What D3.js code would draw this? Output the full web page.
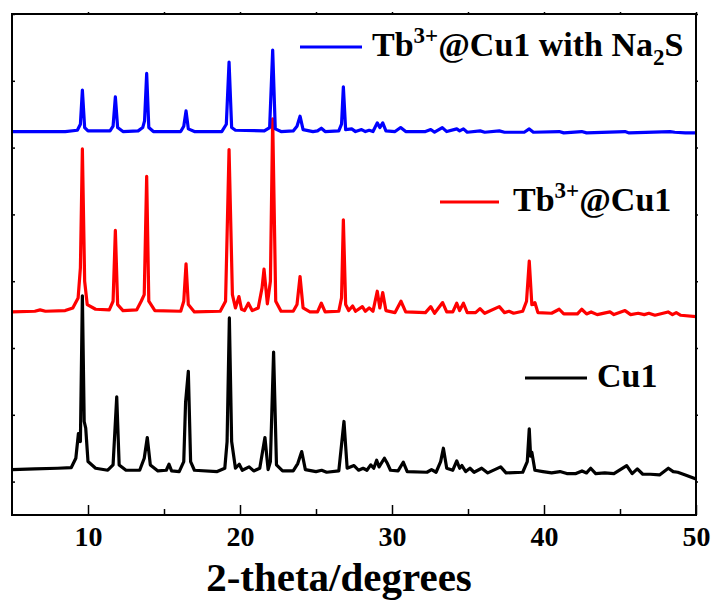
<!DOCTYPE html>
<html>
<head>
<meta charset="utf-8">
<script src="https://cdn.jsdelivr.net/npm/d3@7"></script>
<style>
  body { margin: 0; background: #fff; }
  text { font-family: "Liberation Serif", "Times New Roman", serif; font-weight: bold; }
</style>
</head>
<body>
<svg id="chart" width="713" height="601"></svg>
<script>
// tick labels
var xTicks = [10, 20, 30, 40, 50];
var xMinorTicks = [15, 25, 35, 45];
var yTicks = [0, 1, 2, 3, 4, 5, 6, 7];

// XRD traces: [2-theta, offset intensity]
var cu1 = [[5.0,0.18],[6.5,0.19],[8.0,0.2],[8.9,0.21],[9.2,0.35],[9.37,0.72],[9.5,0.6],[9.63,2.78],[9.75,0.9],[9.85,0.8],[10.0,0.3],[10.5,0.2],[11.3,0.17],[11.65,0.25],[11.89,1.27],[12.05,0.25],[12.5,0.17],[13.4,0.17],[13.7,0.35],[13.9,0.66],[14.1,0.25],[14.6,0.16],[15.15,0.17],[15.33,0.26],[15.5,0.16],[16.0,0.15],[16.3,0.3],[16.42,1.19],[16.6,1.65],[16.75,0.3],[17.0,0.17],[18.5,0.15],[19.0,0.2],[19.15,0.6],[19.3,2.45],[19.45,0.6],[19.7,0.2],[19.95,0.26],[20.15,0.17],[20.6,0.22],[20.9,0.16],[21.3,0.2],[21.64,0.66],[21.85,0.18],[22.0,0.3],[22.21,1.94],[22.4,0.25],[22.8,0.16],[23.5,0.16],[23.8,0.27],[24.06,0.45],[24.3,0.18],[25.0,0.15],[25.37,0.17],[25.7,0.14],[26.5,0.16],[26.84,0.9],[27.05,0.2],[27.5,0.24],[27.8,0.17],[28.1,0.2],[28.35,0.17],[28.6,0.25],[28.8,0.2],[28.99,0.32],[29.15,0.22],[29.5,0.35],[29.7,0.27],[29.9,0.17],[30.4,0.16],[30.74,0.29],[31.0,0.15],[32.3,0.14],[32.6,0.18],[32.9,0.14],[33.2,0.3],[33.38,0.5],[33.6,0.2],[34.0,0.17],[34.26,0.31],[34.45,0.2],[34.6,0.24],[34.85,0.15],[35.13,0.2],[35.4,0.14],[35.9,0.2],[36.3,0.13],[37.15,0.22],[37.5,0.13],[38.6,0.14],[38.9,0.3],[39.03,0.79],[39.12,0.38],[39.2,0.44],[39.4,0.17],[39.93,0.15],[40.5,0.13],[41.05,0.15],[41.5,0.12],[42.1,0.12],[42.5,0.16],[42.8,0.13],[43.07,0.2],[43.4,0.12],[44.0,0.13],[44.6,0.12],[45.44,0.24],[45.8,0.12],[46.14,0.19],[46.5,0.11],[47.0,0.11],[47.6,0.1],[48.18,0.2],[48.5,0.15],[48.8,0.14],[49.3,0.1],[50,0.04]];

var tbCu1 = [[5,2.54],[6.5,2.55],[6.85,2.57],[7.2,2.55],[8.5,2.56],[9.0,2.6],[9.35,2.75],[9.5,3.2],[9.63,4.98],[9.78,3.0],[9.95,2.65],[10.5,2.58],[11.4,2.57],[11.65,2.7],[11.8,3.76],[11.95,2.65],[12.3,2.56],[13.2,2.57],[13.5,2.7],[13.7,2.8],[13.86,4.57],[14.0,2.7],[14.4,2.56],[16.1,2.55],[16.3,2.7],[16.45,3.26],[16.6,2.65],[17.0,2.54],[18.7,2.55],[19.05,2.7],[19.28,4.97],[19.5,2.8],[19.7,2.6],[19.93,2.77],[20.1,2.58],[20.3,2.56],[20.55,2.67],[20.8,2.56],[21.2,2.6],[21.45,2.9],[21.58,3.18],[21.8,2.66],[22.0,3.0],[22.15,5.43],[22.35,2.7],[22.7,2.55],[23.5,2.55],[23.75,2.65],[23.95,3.07],[24.15,2.6],[24.6,2.54],[25.1,2.54],[25.35,2.67],[25.6,2.54],[26.5,2.55],[26.68,2.75],[26.8,3.92],[26.95,2.65],[27.15,2.56],[27.41,2.63],[27.6,2.55],[28.05,2.62],[28.25,2.55],[28.5,2.6],[28.75,2.55],[29.03,2.85],[29.2,2.6],[29.39,2.83],[29.6,2.56],[30.2,2.53],[30.59,2.7],[30.9,2.54],[32.2,2.53],[32.55,2.62],[32.8,2.52],[33.33,2.68],[33.6,2.54],[34.0,2.54],[34.26,2.67],[34.45,2.56],[34.7,2.67],[34.95,2.53],[35.5,2.53],[35.79,2.59],[36.1,2.52],[37.06,2.62],[37.4,2.53],[37.7,2.55],[38.0,2.52],[38.6,2.55],[38.85,2.7],[39.03,3.30],[39.2,2.65],[39.4,2.68],[39.6,2.53],[40.5,2.52],[41.0,2.58],[41.3,2.51],[42.2,2.51],[42.48,2.58],[42.8,2.51],[43.1,2.54],[43.5,2.5],[44.34,2.54],[44.6,2.5],[45.33,2.56],[45.7,2.5],[46.2,2.52],[46.6,2.5],[46.9,2.52],[47.3,2.49],[48.16,2.54],[48.45,2.5],[48.7,2.53],[49.0,2.49],[50,2.47]];

var tbCu1Na2S = [[5,5.24],[8.5,5.24],[9.3,5.26],[9.5,5.35],[9.63,5.86],[9.78,5.3],[10.0,5.25],[11.45,5.25],[11.65,5.32],[11.8,5.76],[11.95,5.3],[12.3,5.24],[13.3,5.25],[13.6,5.3],[13.72,5.4],[13.86,6.11],[14.0,5.3],[14.3,5.24],[16.1,5.24],[16.3,5.32],[16.45,5.55],[16.6,5.28],[17.0,5.24],[18.8,5.24],[19.1,5.35],[19.28,6.28],[19.45,5.3],[19.7,5.26],[21.6,5.25],[21.95,5.3],[22.15,6.46],[22.32,5.28],[22.7,5.24],[23.5,5.25],[23.75,5.32],[23.95,5.47],[24.15,5.27],[24.8,5.24],[25.1,5.25],[25.35,5.29],[25.6,5.24],[26.5,5.25],[26.68,5.35],[26.8,5.91],[26.95,5.27],[27.35,5.28],[27.6,5.24],[28.0,5.27],[28.25,5.24],[28.5,5.26],[28.75,5.24],[29.03,5.37],[29.2,5.3],[29.39,5.37],[29.6,5.25],[30.2,5.24],[30.57,5.3],[30.9,5.24],[32.2,5.24],[32.55,5.27],[32.8,5.23],[33.31,5.3],[33.6,5.24],[34.26,5.28],[34.45,5.25],[34.7,5.28],[34.95,5.23],[35.8,5.25],[36.1,5.23],[37.06,5.25],[37.4,5.23],[38.7,5.23],[39.03,5.28],[39.3,5.23],[41.0,5.24],[41.3,5.22],[42.48,5.24],[42.8,5.22],[45.33,5.24],[45.6,5.22],[48.29,5.24],[48.6,5.23],[49.3,5.22],[50,5.22]];

var margin = {top: 14, right: 17, bottom: 86, left: 12},
    width = 713 - margin.left - margin.right,
    height = 601 - margin.top - margin.bottom;

var svg = d3.select("#chart");
var g = svg.append("g").attr("transform", "translate(" + margin.left + "," + margin.top + ")");

var x = d3.scaleLinear().domain([5, 50]).range([0, width]);
var y = d3.scaleLinear().domain([-0.5, 7]).range([height, 0]);

var line = d3.line()
  .x(d => x(d[0]))
  .y(d => y(d[1]));

var series = [
  {data: cu1, color: "#000000"},
  {data: tbCu1, color: "#ff0000"},
  {data: tbCu1Na2S, color: "#0000ff"}
];

g.append("defs").append("clipPath").attr("id", "clip")
  .append("rect").attr("width", width).attr("height", height);

g.append("g").attr("clip-path", "url(#clip)")
  .selectAll("path").data(series).enter().append("path")
    .attr("d", d => line(d.data))
    .attr("fill", "none")
    .attr("stroke", d => d.color)
    .attr("stroke-width", 3.2)
    .attr("stroke-linejoin", "round")
    .attr("stroke-linecap", "round");

// bottom axis, inward ticks
g.append("g")
  .attr("transform", "translate(0," + height + ")")
  .call(d3.axisBottom(x).tickValues(xMinorTicks).tickSize(-6).tickFormat(""))
  .call(a => a.select(".domain").remove());

g.append("g")
  .attr("transform", "translate(0," + height + ")")
  .call(d3.axisBottom(x).tickValues(xTicks).tickSize(-10).tickPadding(11).tickFormat(d3.format("d")))
  .call(a => a.select(".domain").remove())
  .call(a => a.selectAll("text").attr("font-size", 28).attr("fill", "#000")
    .attr("font-family", "'Liberation Serif', 'Times New Roman', serif"));

// top axis
g.append("g")
  .call(d3.axisTop(x).tickValues(xTicks.concat(xMinorTicks)).tickSize(2).tickFormat(""))
  .call(a => a.select(".domain").remove());

// left / right axes
g.append("g")
  .call(d3.axisLeft(y).tickValues(yTicks).tickSize(-3).tickFormat(""))
  .call(a => a.select(".domain").remove());

g.append("g")
  .attr("transform", "translate(" + width + ",0)")
  .call(d3.axisRight(y).tickValues(yTicks).tickSize(2).tickFormat(""))
  .call(a => a.select(".domain").remove());

g.selectAll(".tick line").attr("stroke", "#000").attr("stroke-width", 1.5);

// frame
g.append("rect")
  .attr("width", width)
  .attr("height", height)
  .attr("fill", "none")
  .attr("stroke", "#000")
  .attr("stroke-width", 2);

// axis title
svg.append("text")
  .attr("x", 339)
  .attr("y", 591)
  .attr("text-anchor", "middle")
  .attr("font-size", 41)
  .text("2-theta/degrees");

// legends
var legend = svg.append("g");

function legendEntry(x1, x2, ly, color, tx, parts) {
  legend.append("line")
    .attr("x1", x1).attr("x2", x2).attr("y1", ly).attr("y2", ly)
    .attr("stroke", color).attr("stroke-width", 3);
  var t = legend.append("text").attr("x", tx).attr("y", ly + 9).attr("font-size", 34);
  parts.forEach(function(p) {
    var s = t.append("tspan").text(p.t);
    if (p.sup) s.attr("font-size", 23).attr("dy", -13);
    if (p.sub) s.attr("font-size", 23).attr("dy", 9);
    if (p.back) s.attr("dy", p.back);
  });
}

legendEntry(300, 362, 47, "#0000ff", 372, [
  {t: "Tb"}, {t: "3+", sup: true}, {t: "@Cu1 with Na", back: 13}, {t: "2", sub: true}, {t: "S", back: -9}
]);
legendEntry(440, 499, 202, "#ff0000", 513, [
  {t: "Tb"}, {t: "3+", sup: true}, {t: "@Cu1", back: 13}
]);
legendEntry(525, 587, 378, "#000000", 597, [
  {t: "Cu1"}
]);
</script>
</body>
</html>
